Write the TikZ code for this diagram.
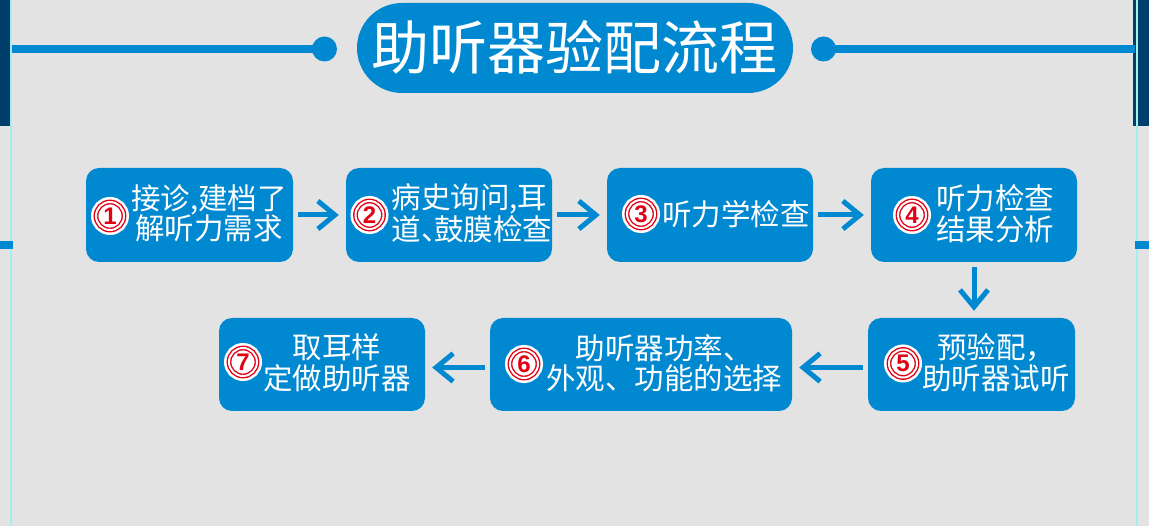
\documentclass[tikz,border=0pt]{standalone}
\usepackage{fontspec}
\setmainfont{Noto Sans CJK SC}
\newfontfamily\numfont{Liberation Sans}
\usetikzlibrary{arrows.meta}
\definecolor{bg}{RGB}{227,227,227}
\definecolor{boxblue}{RGB}{0,136,208}
\definecolor{darkbar}{RGB}{0,62,107}
\definecolor{cyanline}{RGB}{160,240,240}
\definecolor{numred}{RGB}{225,0,20}
\newcommand{\nd}{\makebox[0.45em][l]{、}}
\tikzset{
  box/.style={fill=boxblue, rounded corners=13pt, inner sep=0pt},
  txt/.style={text=white, inner sep=0pt, font=\fontsize{29.5}{30.5}\selectfont},
  numc/.style={circle, minimum size=28pt, inner sep=0pt, fill=white,
    preaction={draw=white, line width=10pt},
    draw=numred, line width=1.4pt, double=white, double distance=2pt,
    text=numred, font=\numfont\bfseries\fontsize{24}{24}\selectfont},
  arr/.style={draw=boxblue, line width=5pt, line join=miter,
    -{Straight Barb[length=17pt, width=28pt]}, shorten <=5pt, shorten >=7pt}
}
\begin{document}
\begin{tikzpicture}[x=1pt, y=-1pt]
\useasboundingbox (0,0) rectangle (1149,526);
\fill[bg] (0,0) rectangle (1149,526);
% side bars
\fill[darkbar] (0,0) rectangle (10,126);
\fill[cyanline] (10,0) rectangle (12,526);
\fill[darkbar] (1133,0) rectangle (1149,126);
\fill[cyanline] (1136,0) rectangle (1138,526);
\fill[boxblue] (0,241) rectangle (13,249);
\fill[boxblue] (1135,241) rectangle (1149,249);
% header
\coordinate (hl) at (12,49);
\coordinate (hr) at (1135,49);
\node[circle, fill=boxblue, minimum size=25pt, inner sep=0pt] (dl) at (324.5,49) {};
\node[circle, fill=boxblue, minimum size=25pt, inner sep=0pt] (dr) at (823.5,49) {};
\draw[boxblue, line width=8pt] (hl) -- (dl.center);
\draw[boxblue, line width=8pt] (dr.center) -- (hr);
\node[fill=boxblue, rounded corners=45pt, minimum width=436pt, minimum height=90pt, inner sep=0pt] (title) at (575,48) {};
\node[text=white, inner sep=0pt, font=\fontsize{58}{58}\selectfont] (tt) at (574,47) {助听器验配流程};
% boxes
\node[box, minimum width=207pt, minimum height=94pt] (b1) at (189.5,215) {};
\node[box, minimum width=206pt, minimum height=94pt] (b2) at (449,215) {};
\node[box, minimum width=206pt, minimum height=94pt] (b3) at (710,215) {};
\node[box, minimum width=206pt, minimum height=94pt] (b4) at (974,215) {};
\node[box, minimum width=207pt, minimum height=93pt] (b5) at (971.5,364.5) {};
\node[box, minimum width=302pt, minimum height=93pt] (b6) at (641,364.5) {};
\node[box, minimum width=206pt, minimum height=93pt] (b7) at (322,364.5) {};
% numbers
\node[numc] (n1) at (110,216) {1};
\node[numc] (n2) at (369.5,215) {2};
\node[numc] (n3) at (641,214) {3};
\node[numc] (n4) at (912,215) {4};
\node[numc] (n5) at (903,363.5) {5};
\node[numc] (n6) at (524,364) {6};
\node[numc] (n7) at (243,362) {7};
% texts
\node[txt, align=center] (t1) at (209,213.5) {接诊,建档了\\解听力需求};
\node[txt, align=left] (t2) at (472,213.5) {病史询问,耳\\道\nd 鼓膜检查};
\node[txt] (t3) at (736,214) {听力学检查};
\node[txt, align=center] (t4) at (995,213.5) {听力检查\\结果分析};
\node[txt, align=center] (t5) at (996,362.5) {预验配，\\助听器试听};
\node[txt, align=center] (t6) at (664,363) {助听器功率、\\外观、功能的选择};
\node[txt, align=center] (t7) at (337,363) {取耳样\\定做助听器};
% arrows
\draw[arr] (b1.east) -- (b2.west);
\draw[arr] (b2.east) -- (b3.west);
\draw[arr] (b3.east) -- (b4.west);
\draw[arr] (b4.south) -- (b4.south |- b5.north);
\draw[arr] ([yshift=-3pt]b5.west) -- ([yshift=-3pt]b6.east);
\draw[arr] ([yshift=-3pt]b6.west) -- ([yshift=-3pt]b7.east);
\end{tikzpicture}
\end{document}
